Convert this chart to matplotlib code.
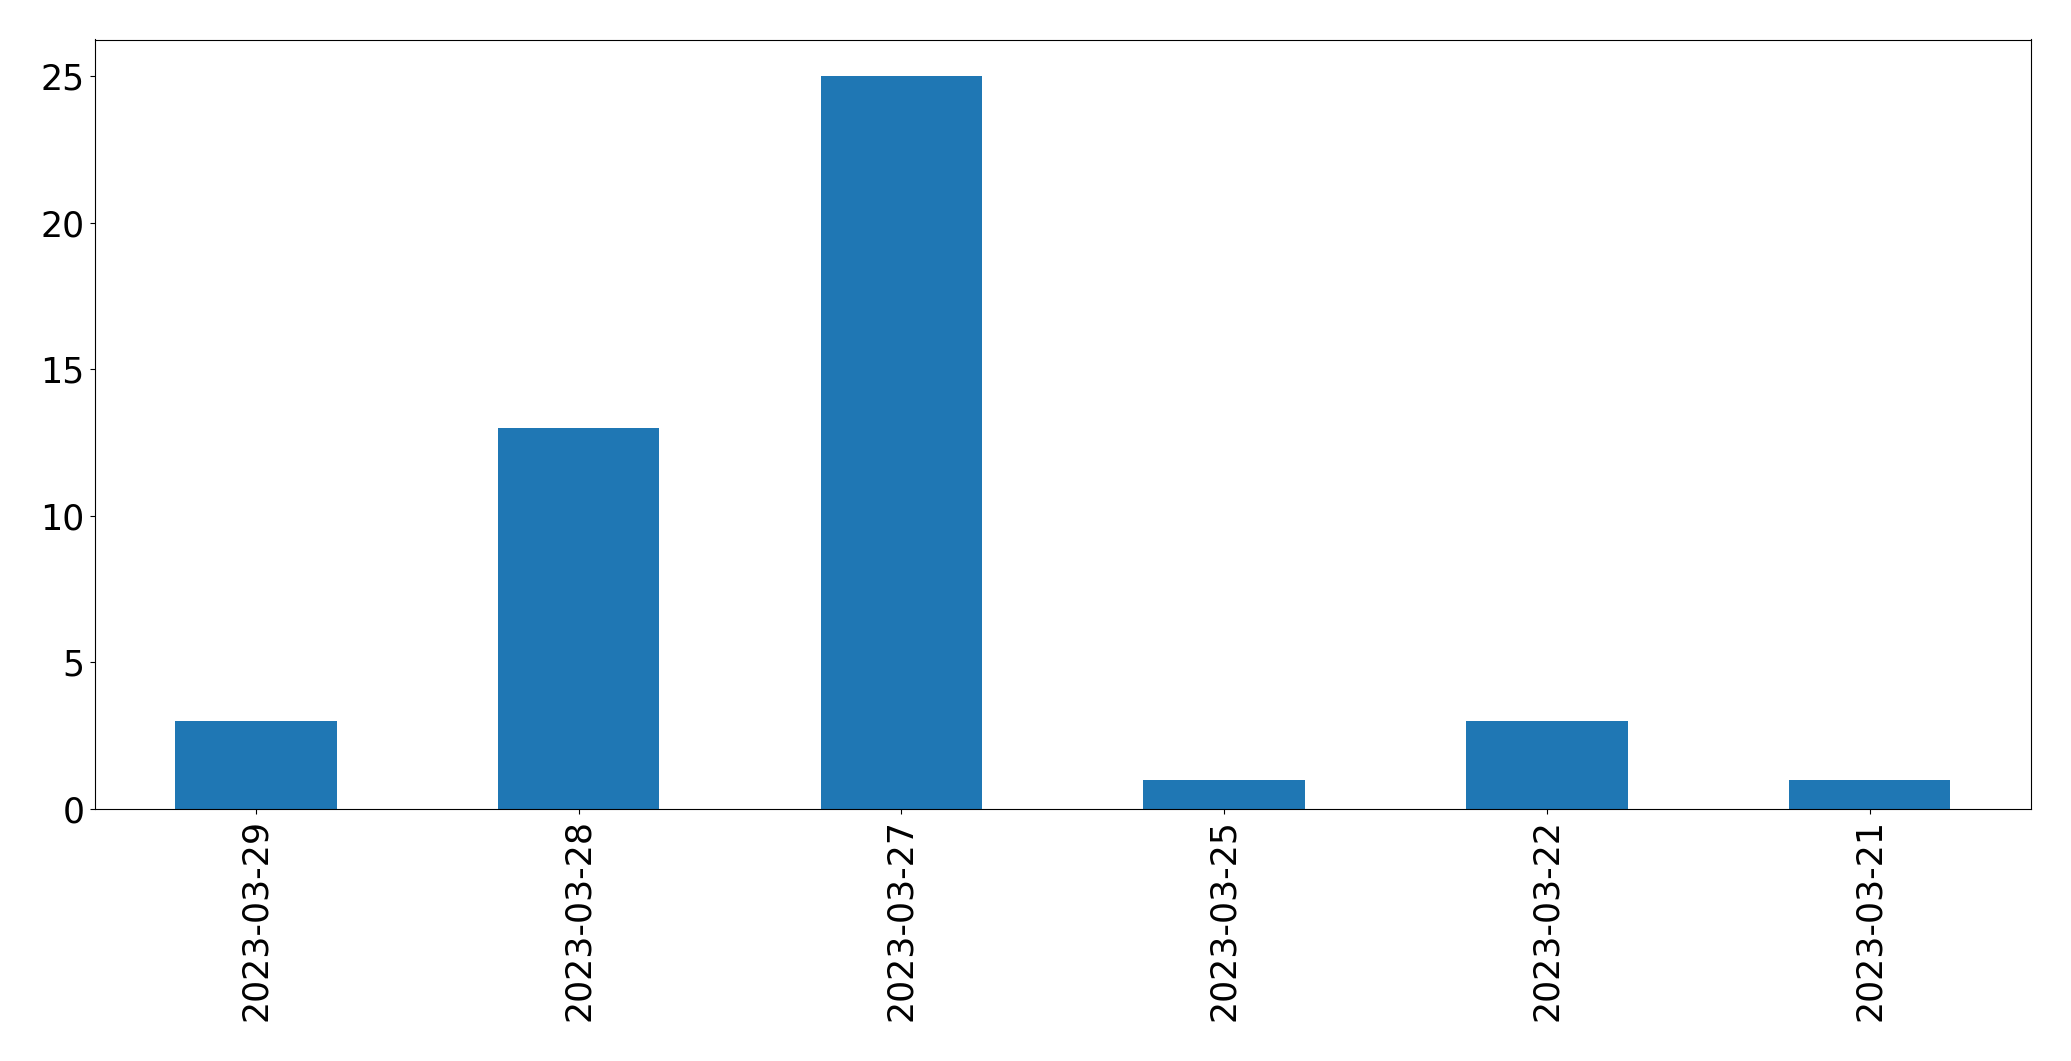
import matplotlib
matplotlib.use("Agg")
import matplotlib.pyplot as plt
import pandas as pd

# Daily counts
dates = ["2023-03-29", "2023-03-28", "2023-03-27", "2023-03-25", "2023-03-22", "2023-03-21"]
counts = [3, 13, 25, 1, 3, 1]

s = pd.Series(counts, index=dates)

fig, ax = plt.subplots(figsize=(20.71, 10.61), dpi=100)
fig.subplots_adjust(left=94.5 / 2071, right=2031 / 2071, top=1 - 39.5 / 1061, bottom=1 - 809 / 1061)

s.plot(kind="bar", ax=ax, color="#1f77b4", fontsize=25)

plt.savefig("out.png", dpi=100)
plt.close(fig)
